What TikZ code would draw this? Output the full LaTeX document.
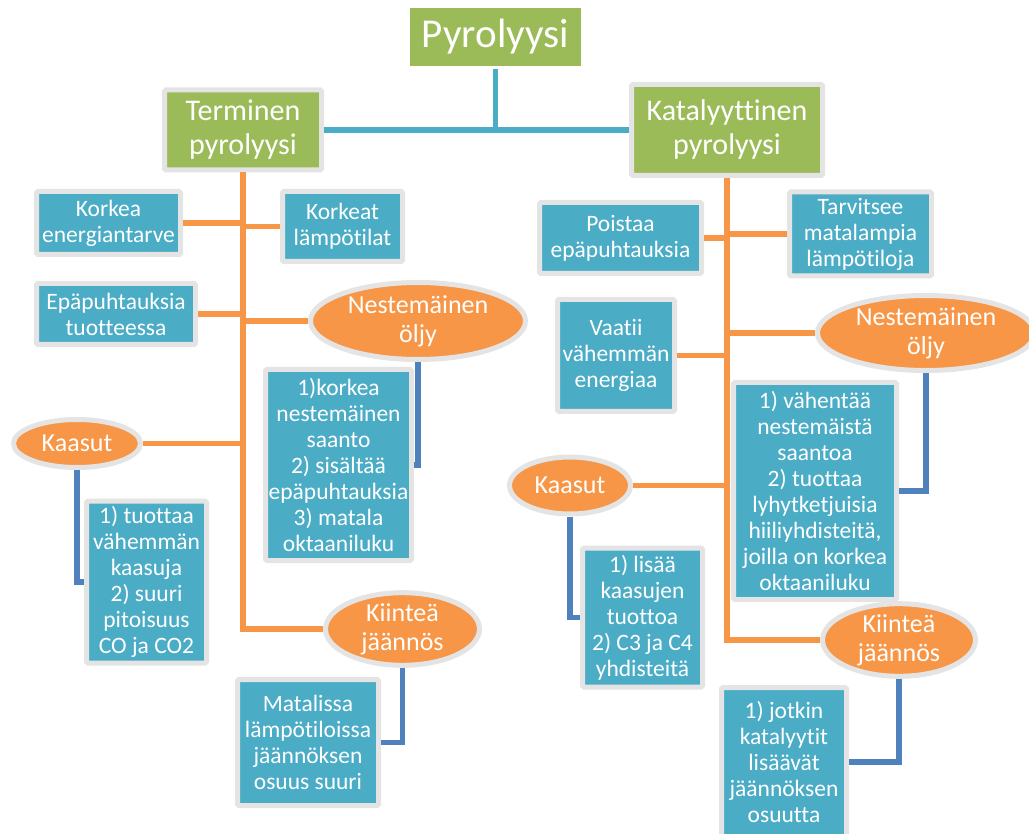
\documentclass[tikz,border=0pt]{standalone}
\usepackage{fontspec}
\setmainfont{Carlito}[Ligatures=NoCommon]
\definecolor{PyroGreen}{HTML}{9BBB59}
\definecolor{PyroBlue}{HTML}{4BACC6}
\definecolor{PyroOrange}{HTML}{F79646}
\definecolor{PyroNavy}{HTML}{4F81BD}
\definecolor{PyroGrey}{HTML}{E4E4E4}
\usetikzlibrary{shapes.geometric}

\begin{document}
\begin{tikzpicture}[x=1pt, y=-1pt, line width=5.5pt,
    titlebox/.style={fill=PyroGreen, text=white, inner sep=0pt,
      font=\fontsize{41}{48}\selectfont},
    headbox/.style={draw=PyroGrey, line width=5pt, fill=PyroGreen, text=white,
      align=center, inner sep=0pt, rounded corners=1.5pt,
      font=\fontsize{30}{34}\selectfont},
    factbox/.style={draw=PyroGrey, line width=5pt, fill=PyroBlue, text=white,
      align=center, inner sep=0pt, rounded corners=1.5pt,
      font=\fontsize{23.5}{26}\selectfont},
    productoval/.style={ellipse, draw=PyroGrey, line width=5pt, fill=PyroOrange,
      text=white, align=center, inner sep=0pt,
      font=\fontsize{26}{29}\selectfont}]
  \useasboundingbox (0,0) rectangle (1029,834);

  % top
  \node[titlebox, minimum width=171pt, minimum height=58pt] (pyr) at (495.5,37) {Pyrolyysi};
  \node[headbox, minimum width=157pt, minimum height=80pt] (ter) at (243,130) {Terminen\\pyrolyysi};
  \node[headbox, minimum width=191pt, minimum height=91pt] (kat) at (727,130) {Katalyyttinen\\pyrolyysi};

  % terminen
  \node[factbox, minimum width=144pt, minimum height=63pt] (ken) at (108.5,223) {Korkea\\energiantarve};
  \node[factbox, minimum width=120pt, minimum height=70pt] (klt) at (342.5,226.5) {Korkeat\\lämpötilat};
  \node[factbox, minimum width=159pt, minimum height=61pt] (ept) at (116,314) {Epäpuhtauksia\\tuotteessa};
  \node[productoval, minimum width=215pt, minimum height=77pt] (noL) at (418,321) {Nestemäinen\\öljy};
  \node[factbox, minimum width=146pt, minimum height=191pt] (nlL) at (338.5,465)
    {1)korkea\\nestemäinen\\saanto\\2) sisältää\\epäpuhtauksia\\3) matala\\oktaaniluku};
  \node[productoval, minimum width=127pt, minimum height=48pt] (kaL) at (77,443.5) {Kaasut};
  \node[factbox, minimum width=120pt, minimum height=162pt] (kiL) at (146.5,582)
    {1) tuottaa\\vähemmän\\kaasuja\\2) suuri\\pitoisuus\\CO ja CO2};
  \node[productoval, minimum width=154pt, minimum height=69pt] (jL) at (402.5,629) {Kiinteä\\jäännös};
  \node[factbox, minimum width=141pt, minimum height=126pt] (mL) at (308,742.5)
    {Matalissa\\lämpötiloissa\\jäännöksen\\osuus suuri};

  % katalyyttinen
  \node[factbox, minimum width=162pt, minimum height=71pt] (poi) at (620.5,238) {Poistaa\\epäpuhtauksia};
  \node[factbox, minimum width=142pt, minimum height=84pt] (tar) at (860.5,234) {Tarvitsee\\matalampia\\lämpötiloja};
  \node[factbox, minimum width=117pt, minimum height=112pt] (vaa) at (616,355.5) {Vaatii\\vähemmän\\energiaa};
  \node[productoval, minimum width=217pt, minimum height=75pt] (noR) at (926,333) {Nestemäinen\\öljy};
  \node[factbox, minimum width=163pt, minimum height=217pt] (nlR) at (815,491)
    {1) vähentää\\nestemäistä\\saantoa\\2) tuottaa\\lyhytketjuisia\\hiiliyhdisteitä,\\joilla on korkea\\oktaaniluku};
  \node[productoval, minimum width=121pt, minimum height=57pt] (kaR) at (570,485.5) {Kaasut};
  \node[factbox, minimum width=120pt, minimum height=139pt] (kiR) at (642.5,617.5)
    {1) lisää\\kaasujen\\tuottoa\\2) C3 ja C4\\yhdisteitä};
  \node[productoval, minimum width=153pt, minimum height=65pt] (jR) at (899,640) {Kiinteä\\jäännös};
  \node[factbox, minimum width=125pt, minimum height=149pt] (jot) at (784,762)
    {1) jotkin\\katalyytit\\lisäävät\\jäännöksen\\osuutta};

  % connectors
  \draw[PyroBlue] (pyr) -- (pyr |- ter);
  \draw[PyroBlue] (ter) -- (kat);
  \draw[PyroOrange] (ter) |- (jL);
  \draw[PyroOrange] (ken) -- (ken -| ter);
  \draw[PyroOrange] (klt) -- (klt -| ter);
  \draw[PyroOrange] (ept) -- (ept -| ter);
  \draw[PyroOrange] (noL) -- (noL -| ter);
  \draw[PyroOrange] (kaL) -- (kaL -| ter);
  \draw[PyroOrange] (kat) |- (jR);
  \draw[PyroOrange] (poi) -- (poi -| kat);
  \draw[PyroOrange] (tar) -- (tar -| kat);
  \draw[PyroOrange] (vaa) -- (vaa -| kat);
  \draw[PyroOrange] (noR) -- (noR -| kat);
  \draw[PyroOrange] (kaR) -- (kaR -| kat);
  \draw[PyroNavy] (noL) |- (nlL);
  \draw[PyroNavy] (kaL) |- (kiL);
  \draw[PyroNavy] (jL) |- (mL);
  \draw[PyroNavy] (noR) |- (nlR);
  \draw[PyroNavy] (kaR) |- (kiR);
  \draw[PyroNavy] (jR) |- (jot);
\end{tikzpicture}
\end{document}
